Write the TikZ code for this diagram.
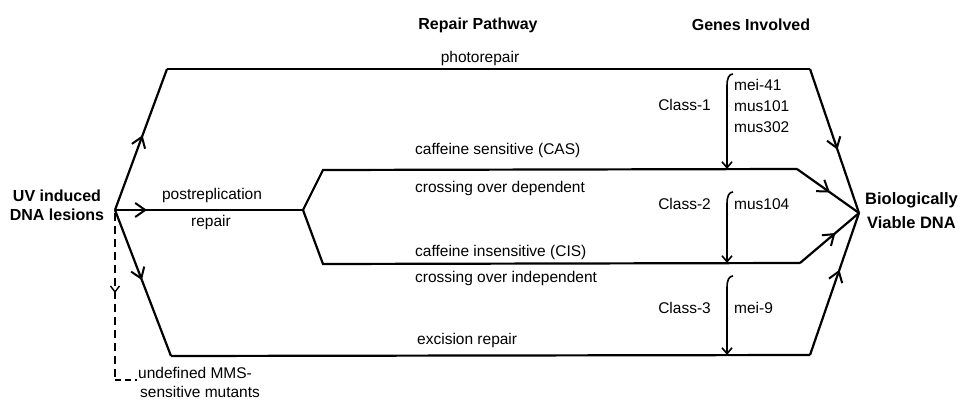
\documentclass[tikz,border=0pt]{standalone}
\usepackage{fontspec}
\setmainfont{Liberation Sans}
\usetikzlibrary{arrows.meta,decorations.markings}
\tikzset{
  path/.style={line width=2.2pt, line join=miter},
  midarrow/.style={postaction={decorate},decoration={markings,
     mark=at position #1 with {\arrow[line width=2pt]{Straight Barb[length=10pt,width=14pt]}}}},
  dasharrow/.style={postaction={decorate},decoration={markings,
     mark=at position #1 with {\arrow[solid,line width=1.4pt]{Straight Barb[length=6pt,width=9pt]}}}},
  lbl/.style={inner sep=0pt, font=\fontsize{15.5}{18}\selectfont},
  head/.style={inner sep=0pt, font=\bfseries\fontsize{16}{19}\selectfont},
  classline/.style={line width=1.6pt, -{Straight Barb[length=6pt,width=10pt]}},
}
\begin{document}
\begin{tikzpicture}[x=1pt,y=-1pt]
\useasboundingbox (0,0) rectangle (967,404);
% headings
\node[head] (hrp) at (478,25) {Repair Pathway};
\node[head] (hgi) at (751,25) {Genes Involved};
% end nodes
\node[head, align=center] (uv) at (57,205) {UV induced\\DNA lesions};
\node[head, align=center, anchor=west, font=\bfseries\fontsize{16.5}{24}\selectfont] (bio) at (865,211) {Biologically\\Viable DNA};
% junction coordinates
\coordinate (O) at (115,210);
\coordinate (V) at (859,213);
\coordinate (A) at (167,69);
\coordinate (B) at (810,69);
\coordinate (P) at (303,210);
\coordinate (C) at (323,170);
\coordinate (D) at (797,169);
\coordinate (E) at (323,264);
\coordinate (F) at (800,263);
\coordinate (G) at (171,356);
\coordinate (H) at (810,355);
\coordinate (M1) at (115,380);
\coordinate (M2) at (137,380);
% paths
\draw[path, midarrow=0.53] (O) -- (A);
\draw[path] (A) -- (B);
\draw[path, midarrow=0.56] (B) -- (V);
\draw[path, midarrow=0.17] (O) -- (P);
\draw[path] (P) -- (C) -- (D);
\draw[path, midarrow=0.53] (D) -- (V);
\draw[path] (P) -- (E) -- (F);
\draw[path, midarrow=0.6] (F) -- (V);
\draw[path, midarrow=0.48] (O) -- (G);
\draw[path] (G) -- (H);
\draw[path, midarrow=0.6] (H) -- (V);
% dashed branch
\draw[line width=1.4pt, dash pattern=on 8pt off 5pt, dasharrow=0.48] (115,213) -- (M1);
\draw[line width=1.4pt, dash pattern=on 6pt off 4pt] (M1) -- (M2);
\node[lbl, anchor=west] (mms1) at (138,373) {undefined MMS-};
\node[lbl, anchor=west] (mms2) at (140,392) {sensitive mutants};
% path labels
\node[lbl] (photo) at (480,58) {photorepair};
\node[lbl, anchor=west] (cas) at (415,150) {caffeine sensitive (CAS)};
\node[lbl, anchor=west] (dep) at (415,188) {crossing over dependent};
\node[lbl, anchor=west] (cis) at (415,252) {caffeine insensitive (CIS)};
\node[lbl, anchor=west] (indep) at (415,278) {crossing over independent};
\node[lbl, anchor=west] (exc) at (417,340) {excision repair};
\node[lbl] (post1) at (212,195) {postreplication};
\node[lbl] (post2) at (211,222) {repair};
% classes
\coordinate (k1t) at (733,74);
\coordinate (k1b) at (727,169);
\coordinate (k2t) at (733,192);
\coordinate (k2b) at (727,263);
\coordinate (k3t) at (733,276);
\coordinate (k3b) at (727,355);
\draw[classline] (k1t) .. controls (729,74) and (727,78) .. (727,86) -- (k1b);
\draw[classline] (k2t) .. controls (729,192) and (727,196) .. (727,204) -- (k2b);
\draw[classline] (k3t) .. controls (729,276) and (727,280) .. (727,288) -- (k3b);
\node[lbl, anchor=east] (c1) at (711,105) {Class-1};
\node[lbl, anchor=west, align=left, font=\fontsize{15.5}{21}\selectfont] (g1) at (734,106) {mei-41\\mus101\\mus302};
\node[lbl, anchor=east] (c2) at (711,204) {Class-2};
\node[lbl, anchor=west] (g2) at (734,204) {mus104};
\node[lbl, anchor=east] (c3) at (711,308) {Class-3};
\node[lbl, anchor=west] (g3) at (734,308) {mei-9};
\end{tikzpicture}
\end{document}
